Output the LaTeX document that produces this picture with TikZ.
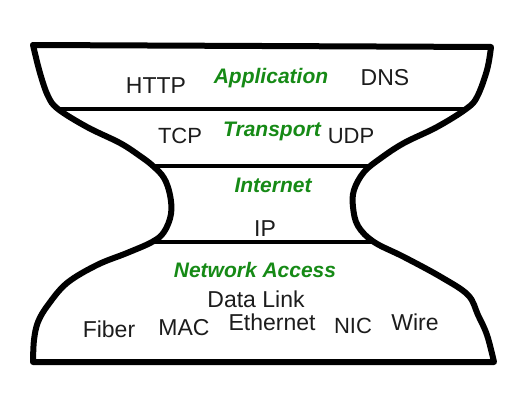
\documentclass[tikz,border=0pt]{standalone}
\usepackage{fontspec}
\setmainfont{Liberation Sans}
\usetikzlibrary{positioning}
\definecolor{layergreen}{RGB}{22,138,22}
\definecolor{protogray}{RGB}{28,28,28}

\begin{document}
\begin{tikzpicture}[x=1pt,y=-1pt,
	proto/.style={anchor=base, inner sep=0pt, text=protogray, font=\fontsize{23}{23}\selectfont},
	layer/.style={anchor=base, inner sep=0pt, text=layergreen, font=\fontsize{21}{21}\selectfont\bfseries\itshape},
	rim/.style={line width=6pt, line join=round, line cap=round},
	divider/.style={line width=3.5pt}]
				\useasboundingbox (0,0) rectangle (527,415);
				
				% hourglass outline
				\draw[rim] (33,45) -- (491,47)
					-- plot[smooth, tension=0.6] coordinates {(491,47) (487,70) (477,97) (466,109) (437,127) (404,143) (381,158) (364,172) (354,190) (353,207) (358,226) (374,242) (404,257) (441,277) (468,295) (478,315) (487,335) (494,362)}
					-- (33,362)
					-- plot[smooth, tension=0.6] coordinates {(33,362) (34,340) (38,322) (48,305) (67,283) (97,265) (127,253) (152,242) (164,232) (171,214) (170,195) (164,178) (153,166) (140,156) (120,143) (87,127) (58,109) (48,96) (40,73) (33,45)};
				
				% layer boundaries
				\coordinate (appL) at (58,109);
				\coordinate (appR) at (466,109);
				\coordinate (tcpL) at (153,166);
				\coordinate (tcpR) at (373,166);
				\coordinate (ipL) at (152,242);
				\coordinate (ipR) at (374,242);
				\draw[divider] (appL) -- (appR);
				\draw[divider] (tcpL) -- (tcpR);
				\draw[divider] (ipL) -- (ipR);
				
				% application
				\node[proto] (http) at (156,93) {HTTP};
				\node[layer] (app) at (271,83) {Application};
				\node[proto] (dns) at (385,85) {DNS};
				
				% transport
				\node[proto, font=\fontsize{22}{22}\selectfont] (tcp) at (180,143) {TCP};
				\node[layer] (trans) at (272,136) {Transport};
				\node[proto, font=\fontsize{22}{22}\selectfont] (udp) at (351,143) {UDP};
				
				% internet
				\node[layer] (inet) at (273,192) {Internet};
				\node[proto] (ip) at (265,236) {IP};
				
				% network access
				\node[layer] (netacc) at (255,277) {Network Access};
				\node[proto] (datalink) at (256,307) {Data Link};
				\node[proto] (fiber) at (109,337) {Fiber};
				\node[proto] (mac) at (184,335) {MAC};
				\node[proto] (eth) at (272,330) {Ethernet};
				\node[proto, font=\fontsize{22}{22}\selectfont] (nic) at (353,333) {NIC};
				\node[proto] (wire) at (415,330) {Wire};
			\end{tikzpicture}
\end{document}
